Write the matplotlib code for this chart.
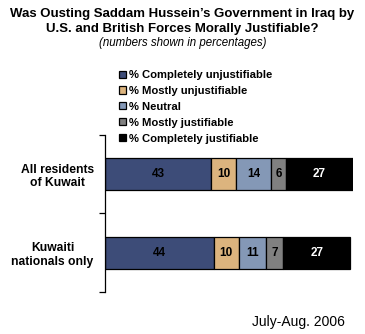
import matplotlib
matplotlib.use('Agg')
import matplotlib.pyplot as plt
import numpy as np

plt.rcParams['font.family'] = ['Liberation Sans', 'DejaVu Sans']

groups = ['All residents\nof Kuwait', 'Kuwaiti\nnationals only']
answers = ['% Completely unjustifiable', '% Mostly unjustifiable', '% Neutral',
           '% Mostly justifiable', '% Completely justifiable']
values = np.array([[43, 10, 14, 6, 27],
                   [44, 10, 11, 7, 27]])
colors = ['#3d4c78', '#dcb47e', '#8498b6', '#808080', '#000000']
text_colors = ['black', 'black', 'black', 'black', 'white']

fig = plt.figure(figsize=(3.65, 3.34), dpi=100)
ax = fig.add_axes([0.287, 0.126, 0.68, 0.47])

y = np.arange(len(groups))
left = np.zeros(len(groups))
handles = []
for j in range(len(answers)):
    bars = ax.barh(y, values[:, j], left=left, height=0.41, color=colors[j],
                   edgecolor='black', linewidth=0.9, label=answers[j])
    handles.append(bars)
    for i in range(len(groups)):
        ax.text(left[i] + values[i, j] / 2, y[i], str(values[i, j]),
                ha='center', va='center', fontsize=8.5, fontweight='bold',
                color=text_colors[j])
    left += values[:, j]

ax.set_xlim(0, 100)
ax.set_ylim(1.5, -0.5)
ax.set_xticks([])
ax.set_yticks(y)
ax.set_yticklabels(groups, fontsize=8.7, fontweight='bold', multialignment='center')
ax.tick_params(axis='y', which='major', length=0, pad=8)
ax.set_yticks([-0.5, 0.5, 1.5], minor=True)
ax.tick_params(axis='y', which='minor', length=4, width=0.9)
for s in ['top', 'right', 'bottom']:
    ax.spines[s].set_visible(False)
ax.spines['left'].set_linewidth(0.9)

fig.legend(handles=handles, labels=answers, loc='upper left',
           bbox_to_anchor=(0.327, 0.79), frameon=False,
           prop={'weight': 'bold', 'size': 8.1}, handlelength=0.6,
           handleheight=0.6, handletextpad=0.3, labelspacing=0.52,
           borderpad=0, borderaxespad=0)

fig.text(0.5, 0.976, "Was Ousting Saddam Hussein\u2019s Government in Iraq by\nU.S. and British Forces Morally Justifiable?",
         ha='center', va='top', fontsize=9.5, fontweight='bold', linespacing=1.28)
fig.text(0.5, 0.871, '(numbers shown in percentages)', ha='center', va='center',
         fontsize=8.3, style='italic')
fig.text(0.945, 0.036, 'July-Aug. 2006', ha='right', va='center', fontsize=10)

fig.savefig('out.png', dpi=100)
